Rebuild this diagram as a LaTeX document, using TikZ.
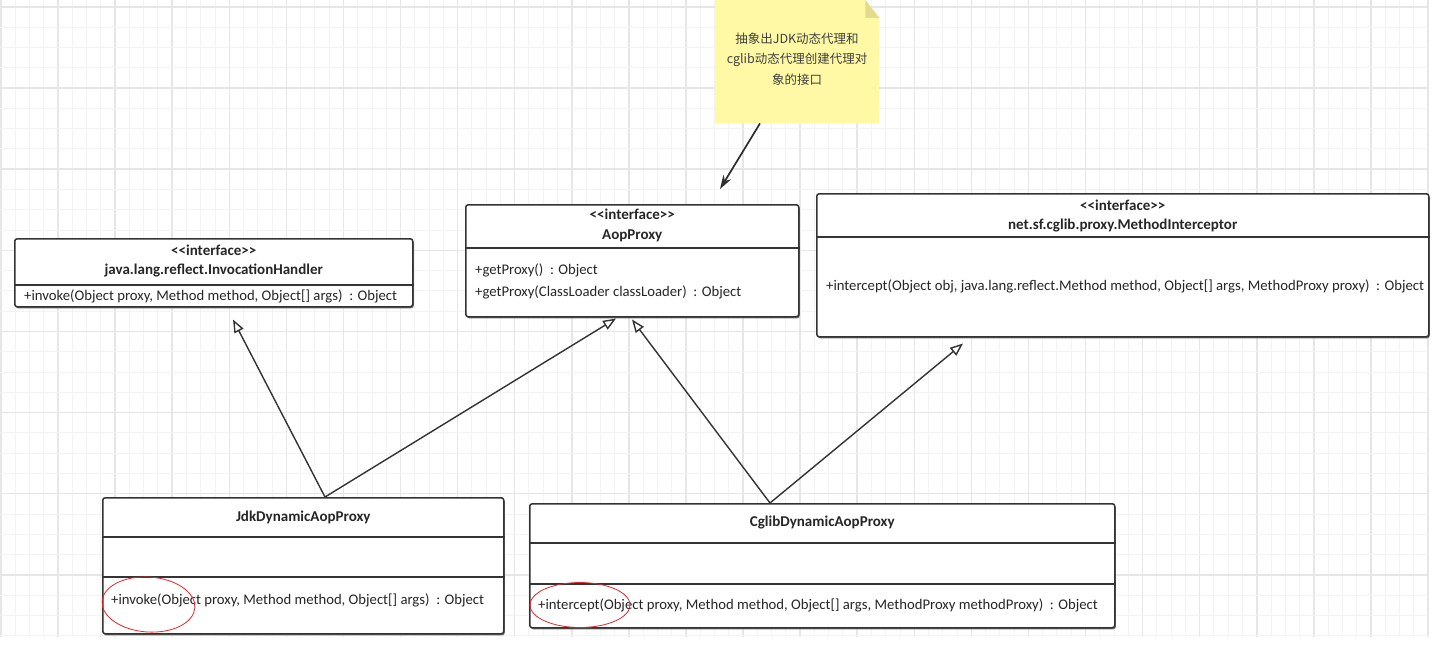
\documentclass[tikz,border=0pt]{standalone}
\usepackage{fontspec}
\setmainfont{Carlito}
\newfontfamily\cjk{Noto Sans CJK SC}
\usetikzlibrary{arrows.meta,calc,shadows}
\definecolor{minorgrid}{HTML}{F3F3F3}
\definecolor{majorgrid}{HTML}{E6E6E6}
\definecolor{boxline}{HTML}{333333}
\definecolor{notefill}{HTML}{FFF9A6}
\definecolor{notefold}{HTML}{E4DB8A}
\definecolor{redmark}{HTML}{E5262A}
\newcommand{\stereotype}{{<}{<}interface{>}{>}}
\tikzset{
  every node/.style={font=\fontsize{14.7bp}{17bp}\selectfont, text=black!85},
  umlbox/.style={draw=boxline, line width=1.5bp, fill=white, rounded corners=2.5bp,
    inner sep=0pt, anchor=north west,
    general shadow={fill=black!55, shadow xshift=1bp, shadow yshift=-1.6bp}},
  sepline/.style={draw=boxline, line width=1.3bp},
  thicksep/.style={draw=boxline, line width=2.6bp},
  bold/.style={font=\fontsize{15bp}{17bp}\selectfont\bfseries},
  member/.style={anchor=west, inner sep=0pt},
  realize/.style={draw=boxline, line width=1.4bp,
    -{Triangle[open, length=13bp, width=10bp, fill=white]}},
  notearrow/.style={draw=boxline!90!black, line width=1.7bp,
    -{Stealth[length=14bp, width=9bp]}},
  redring/.style={draw=redmark, line width=0.8bp},
}
\begin{document}
\begin{tikzpicture}[x=1bp,y=-1bp]
\useasboundingbox (0,0) rectangle (1437,651);
\fill[white] (0,0) rectangle (1437,651);
% grid
\foreach \i in {0,...,100} {
  \pgfmathsetmacro\gx{1+14.27*\i}
  \pgfmathtruncatemacro\m{mod(\i,4)}
  \ifnum\m=0
    \draw[majorgrid, line width=1.5bp] (\gx,0) -- (\gx,637);
  \else
    \draw[minorgrid, line width=1bp] (\gx,0) -- (\gx,637);
  \fi
}
\foreach \k in {0,...,31} {
  \pgfmathsetmacro\gy{7+20.28*\k}
  \pgfmathtruncatemacro\m{mod(\k,4)}
  \ifnum\m=0
    \draw[majorgrid, line width=1.5bp] (0,\gy) -- (1428,\gy);
  \else
    \draw[minorgrid, line width=1bp] (0,\gy) -- (1428,\gy);
  \fi
}

% note
\node[minimum width=164bp, minimum height=123bp, anchor=north west, inner sep=0pt] (note) at (715,0) {};
\fill[notefill] (note.north west) -- ($(note.north east)+(-14,0)$) -- ($(note.north east)+(0,18)$)
  -- (note.south east) -- (note.south west) -- cycle;
\fill[notefold] ($(note.north east)+(-14,0)$) -- ($(note.north east)+(-14,18)$) -- ($(note.north east)+(0,18)$) -- cycle;
\node[align=center, font=\cjk\fontsize{12.5bp}{20.5bp}\selectfont, text=black!75] (notetext) at (797,59)
  {抽象出JDK动态代理和\\cglib动态代理创建代理对\\象的接口};

% InvocationHandler
\node[umlbox, minimum width=398bp, minimum height=68bp] (ih) at (14,238) {};
\draw[sepline] (ih.west |- 0,285) -- (ih.east |- 0,285);
\node[bold] (ihst) at (ih.north |- 0,250) {\stereotype};
\node[bold] (ihname) at (ih.north |- 0,270) {java.lang.reflect.InvocationHandler};
\node[member] (ihm) at ($(ih.west |- 0,296)+(10,0)$) {+invoke(Object proxy, Method method, Object[] args)\ \ : Object};

% AopProxy
\node[umlbox, minimum width=333bp, minimum height=112bp] (aop) at (465,204) {};
\draw[thicksep] (aop.west |- 0,248) -- (aop.east |- 0,248);
\node[bold] (aopst) at (aop.north |- 0,214) {\stereotype};
\node[bold] (aopname) at (aop.north |- 0,236) {AopProxy};
\node[member] (aopm1) at ($(aop.west |- 0,270)+(10,0)$) {+getProxy()\ \ : Object};
\node[member] (aopm2) at ($(aop.west |- 0,292)+(10,0)$) {+getProxy(ClassLoader classLoader)\ \ : Object};

% MethodInterceptor
\node[umlbox, minimum width=612bp, minimum height=143bp] (mi) at (816,193) {};
\draw[thicksep] (mi.west |- 0,237) -- (mi.east |- 0,237);
\node[bold] (mist) at (mi.north |- 0,205) {\stereotype};
\node[bold] (miname) at (mi.north |- 0,226) {net.sf.cglib.proxy.MethodInterceptor};
\node[member] (mim) at ($(mi.west |- 0,286)+(10,0)$) {+intercept(Object obj, java.lang.reflect.Method method, Object[] args, MethodProxy proxy)\ \ : Object};

% JdkDynamicAopProxy
\node[umlbox, minimum width=401bp, minimum height=136bp] (jdk) at (102,497) {};
\draw[sepline] (jdk.west |- 0,537) -- (jdk.east |- 0,537);
\draw[thicksep] (jdk.west |- 0,577) -- (jdk.east |- 0,577);
\node[bold] (jdkname) at (jdk.north |- 0,517) {JdkDynamicAopProxy};
\node[member] (jdkm) at ($(jdk.west |- 0,600)+(9,0)$) {+invoke(Object proxy, Method method, Object[] args)\ \ : Object};

% CglibDynamicAopProxy
\node[umlbox, minimum width=585bp, minimum height=124bp] (cg) at (529,503) {};
\draw[sepline] (cg.west |- 0,543) -- (cg.east |- 0,543);
\draw[sepline] (cg.west |- 0,584) -- (cg.east |- 0,584);
\node[bold] (cgname) at (cg.north |- 0,523) {CglibDynamicAopProxy};
\node[member] (cgm) at ($(cg.west |- 0,605)+(9,0)$) {+intercept(Object proxy, Method method, Object[] args, MethodProxy methodProxy)\ \ : Object};

% connectors
\draw[notearrow] ($(note.south west)+(45,0)$) -- ($(aop.north west)+(255,-15)$);
\draw[realize] ($(jdk.north west)+(223,0)$) -- ($(ih.south west)+(219,12)$);
\draw[realize] ($(jdk.north west)+(223,0)$) -- ($(aop.south west)+(151,1)$);
\draw[realize] ($(cg.north west)+(241,0)$) -- ($(aop.south west)+(167,2)$);
\draw[realize] ($(cg.north west)+(241,0)$) -- ($(mi.south west)+(147,6)$);

% red marks
\draw[redring, rotate around={-4:(148.5,604.5)}] (148.5,604.5) ellipse [x radius=46.5, y radius=27.5];
\draw[redring] (580,605) ellipse [x radius=50, y radius=22.5];
\end{tikzpicture}
\end{document}
